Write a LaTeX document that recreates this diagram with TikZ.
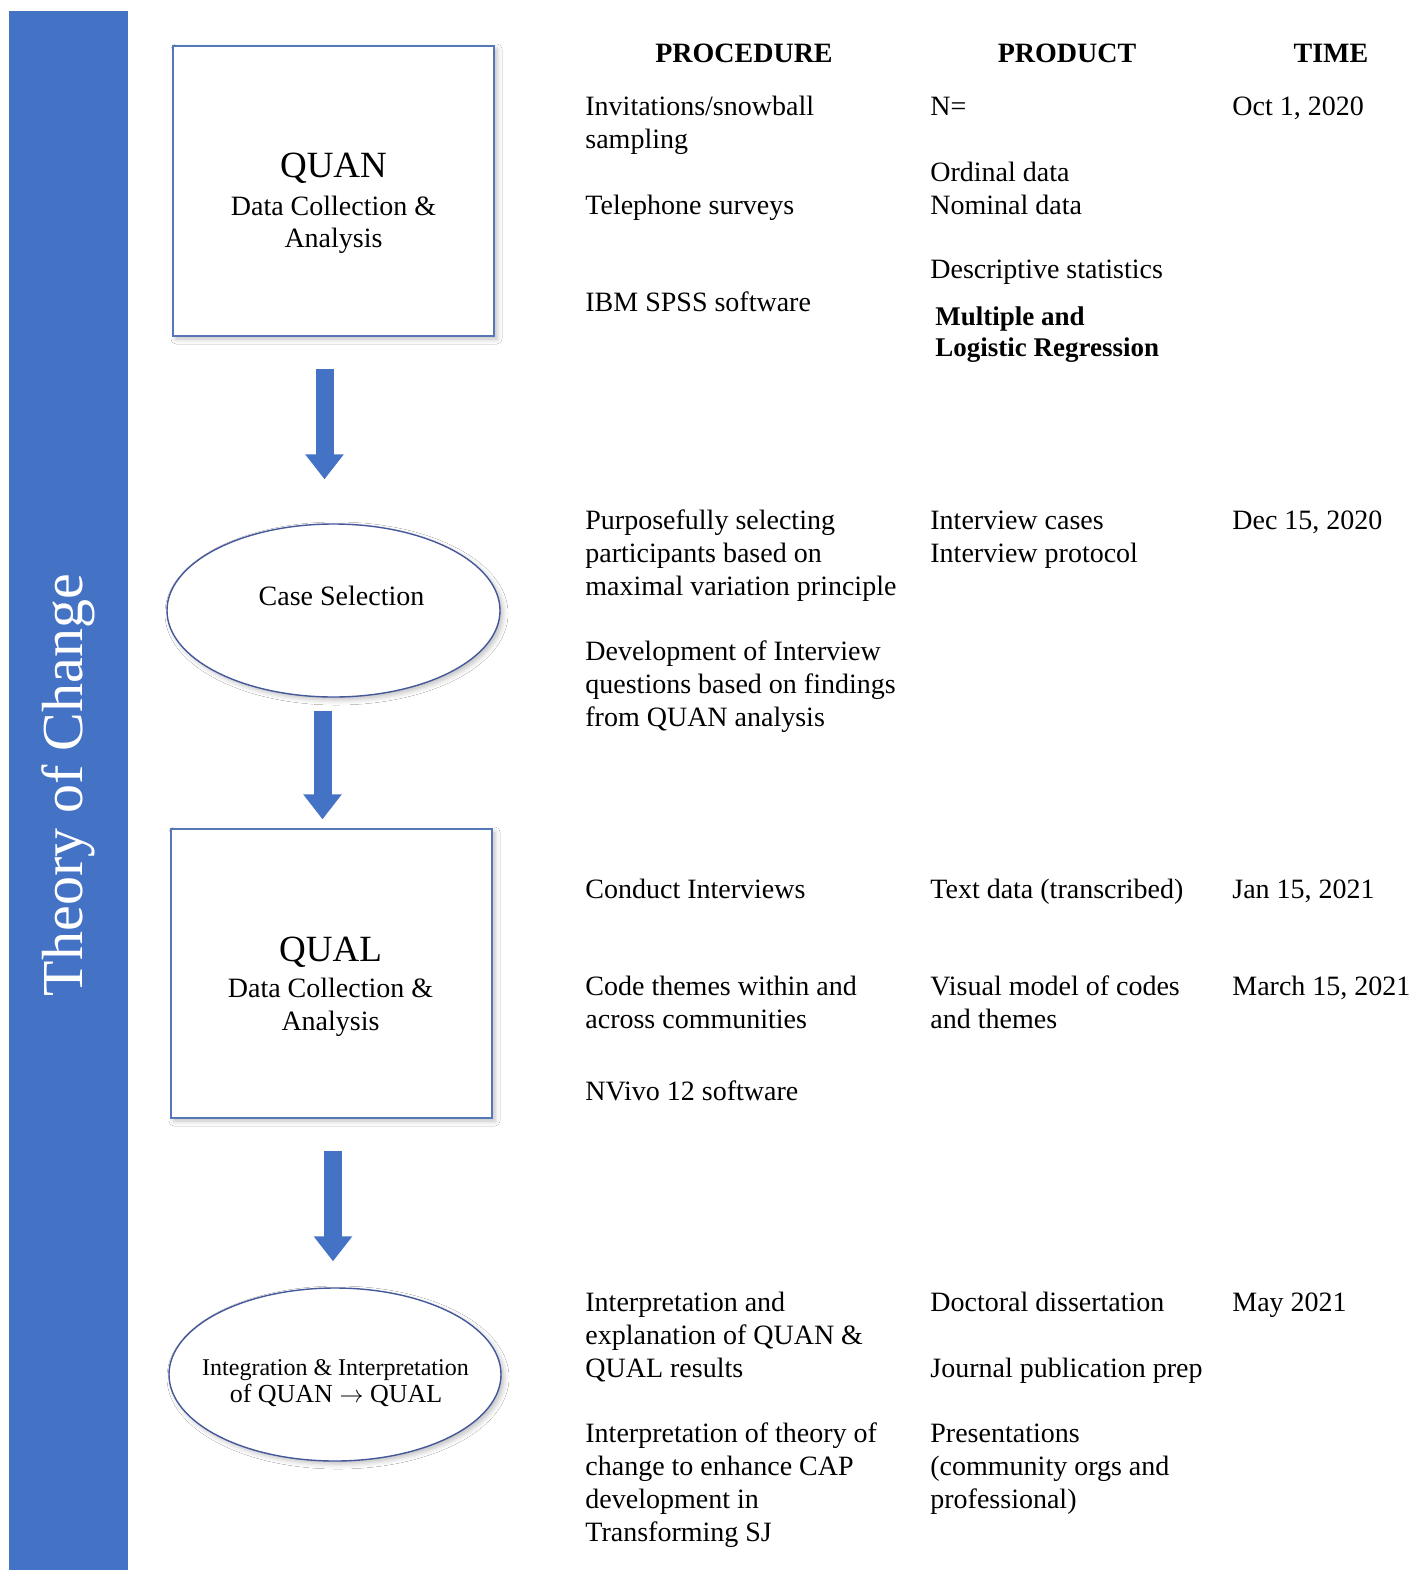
\documentclass[tikz,border=0pt]{standalone}
\usepackage{fontspec}
\setmainfont{Liberation Serif}
\usetikzlibrary{arrows.meta,shapes.geometric,shadows.blur}
\definecolor{tocblue}{HTML}{4472C4}
\definecolor{edgeblue}{HTML}{5577B8}
\definecolor{ovalblue}{HTML}{44589A}
\newcommand\stack[1]{\begin{tabular}[t]{@{}l@{}}#1\end{tabular}}
\begin{document}
\begin{tikzpicture}[x=0.5pt,y=-0.5pt,
  softshadow/.style={blur shadow={shadow xshift=1.5pt,shadow yshift=-1.5pt,shadow blur radius=2.5pt,shadow opacity=25}},
  phasebox/.style={draw=edgeblue,line width=0.7pt,fill=white,inner sep=0pt,
    minimum width=160.5pt,minimum height=145pt,softshadow},
  phaseoval/.style={ellipse,draw=ovalblue,line width=0.7pt,fill=white,inner sep=0pt,
    minimum width=166.5pt,minimum height=86.5pt,softshadow},
  bigarrow/.style={draw=tocblue,line width=9pt,-{Triangle[width=18.5pt,length=12.5pt]}},
  txt/.style={anchor=base west,inner sep=0pt,font=\fontsize{14}{16.5}\selectfont},
  hdr/.style={anchor=base,inner sep=0pt,font=\fontsize{14}{16.5}\selectfont\bfseries},
  midtxt/.style={anchor=base,inner sep=0pt,font=\fontsize{14}{16.5}\selectfont},
  bigtxt/.style={anchor=base,inner sep=0pt,font=\fontsize{18.5}{20}\selectfont}]
\fill[white] (0,0) rectangle (1416,1570);
\useasboundingbox (0,0) rectangle (1416,1570);

% side bar with title
\fill[tocblue] (9,11) rectangle (128,1570);
\node[anchor=base,rotate=90,inner sep=0pt,text=white,font=\fontsize{29}{32}\selectfont]
  (title) at (83,785) {Theory of Change};

% phases
\node[phasebox] (quan) at (333.5,191) {};
\node[bigtxt] (quanA) at (333.5,177) {QUAN};
\node[midtxt] (quanB) at (333.5,215) {Data Collection \&};
\node[midtxt] (quanC) at (333.5,247) {Analysis};

\node[phaseoval] (case) at (333.5,610.5) {};
\node[midtxt] (caseT) at (341.5,605) {Case Selection};

\node[phasebox,minimum height=144.5pt] (qual) at (331.5,973.5) {};
\node[bigtxt] (qualA) at (330.5,961) {QUAL};
\node[midtxt] (qualB) at (330.5,997) {Data Collection \&};
\node[midtxt] (qualC) at (330.5,1030) {Analysis};

\node[phaseoval,minimum width=166pt] (integ) at (335,1374.5) {};
\node[anchor=base,inner sep=0pt,font=\fontsize{12}{13.5}\selectfont] (integA) at (335.5,1375) {Integration \& Interpretation};
\node[anchor=base,inner sep=0pt,font=\fontsize{13}{14}\selectfont] (integB) at (336,1402) {of QUAN $\rightarrow$ QUAL};

% flow arrows
\draw[bigarrow] ([xshift=-4.5pt,yshift=-16pt]quan.south) -- ([xshift=-4.5pt,yshift=22pt]case.north);
\draw[bigarrow] ([xshift=-5.5pt,yshift=-6.5pt]case.south) -- ([xshift=-4.5pt,yshift=4.5pt]qual.north);
\draw[bigarrow] ([xshift=0.75pt,yshift=-16pt]qual.south) -- ([xshift=-1pt,yshift=13pt]integ.north);

% column headers
\node[hdr] (hProc) at (744,62) {PROCEDURE};
\node[hdr] (hProd) at (1067,62) {PRODUCT};
\node[hdr] (hTime) at (1331,62) {TIME};

% procedure column
\node[txt] (p1) at (585,115) {\stack{Invitations/snowball\\sampling}};
\node[txt] (p2) at (585,214) {Telephone surveys};
\node[txt] (p3) at (585,311) {IBM SPSS software};
\node[txt] (p4) at (585,529) {\stack{Purposefully selecting\\participants based on\\maximal variation principle}};
\node[txt] (p5) at (585,660) {\stack{Development of Interview\\questions based on findings\\from QUAN analysis}};
\node[txt] (p6) at (585,898) {Conduct Interviews};
\node[txt] (p7) at (585,995) {\stack{Code themes within and\\across communities}};
\node[txt] (p8) at (585,1100) {NVivo 12 software};
\node[txt] (p9) at (585,1311) {\stack{Interpretation and\\explanation of QUAN \&\\QUAL results}};
\node[txt] (p10) at (585,1442) {\stack{Interpretation of theory of\\change to enhance CAP\\development in\\Transforming SJ}};

% product column
\node[txt] (d1) at (930,115) {N=};
\node[txt] (d2) at (930,181) {\stack{Ordinal data\\Nominal data}};
\node[txt] (d3) at (930,278) {Descriptive statistics};
\node[txt,font=\fontsize{13.5}{15.5}\selectfont\bfseries] (d4) at (935,325) {\stack{Multiple and\\Logistic Regression}};
\node[txt] (d5) at (930,529) {\stack{Interview cases\\Interview protocol}};
\node[txt] (d6) at (930,898) {Text data (transcribed)};
\node[txt] (d7) at (930,995) {\stack{Visual model of codes\\and themes}};
\node[txt] (d8) at (930,1311) {Doctoral dissertation};
\node[txt] (d9) at (930,1377) {Journal publication prep};
\node[txt] (d10) at (930,1442) {\stack{Presentations\\(community orgs and\\professional)}};

% time column
\node[txt] (t1) at (1232,115) {Oct 1, 2020};
\node[txt] (t2) at (1232,529) {Dec 15, 2020};
\node[txt] (t3) at (1232,898) {Jan 15, 2021};
\node[txt] (t4) at (1232,995) {March 15, 2021};
\node[txt] (t5) at (1232,1311) {May 2021};
\end{tikzpicture}
\end{document}
